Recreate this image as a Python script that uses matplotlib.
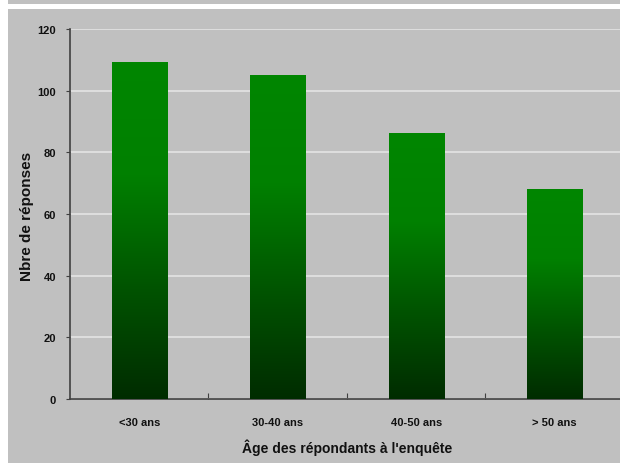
import matplotlib
matplotlib.use('Agg')
import matplotlib.pyplot as plt
import numpy as np
from matplotlib.colors import LinearSegmentedColormap
from matplotlib.patches import Rectangle

categories = ['<30 ans', '30-40 ans', '40-50 ans', '> 50 ans']
responses = [109, 105, 86, 68]
y_ticks = [0, 20, 40, 60, 80, 100, 120]

plt.rcParams['font.family'] = ['Liberation Sans', 'DejaVu Sans']
plt.rcParams['font.weight'] = 'bold'

fig = plt.figure(figsize=(6.2, 4.64), dpi=100, facecolor='#c0c0c0')
# white frame strips around the chart area
fig.patches.append(Rectangle((0, 0), 8 / 620, 1, transform=fig.transFigure,
                             facecolor='white', edgecolor='none'))
fig.patches.append(Rectangle((0, 1 - 10 / 464), 1, 5 / 464, transform=fig.transFigure,
                             facecolor='white', edgecolor='none'))

ax = fig.add_axes([70 / 620, 1 - 400 / 464, 554 / 620, 370 / 464])
ax.set_facecolor('#c0c0c0')

green = LinearSegmentedColormap.from_list('grn', ['#002c00', '#005400', '#008000', '#008600'])
grad = np.linspace(0, 1, 256).reshape(-1, 1)

x = np.arange(len(categories)) + 0.5
width = 0.4
for xi, val in zip(x, responses):
    ax.imshow(grad, cmap=green, origin='lower', aspect='auto',
              extent=(xi - width / 2, xi + width / 2, 0, val), zorder=3)

ax.set_xlim(0, len(categories))
ax.set_ylim(0, 120)
ax.set_yticks(y_ticks)
ax.yaxis.grid(True, color='#e4e4e4', linewidth=1.2, zorder=1)
ax.set_axisbelow(True)

ax.set_xticks(np.arange(1, len(categories)))
ax.set_xticklabels([])
ax.set_xticks(x, minor=True)
ax.set_xticklabels(categories, minor=True, fontsize=8, color='#111111')
ax.tick_params(axis='x', which='major', direction='in', length=4, color='#404040')
ax.tick_params(axis='x', which='minor', length=0, pad=13)
ax.tick_params(axis='y', direction='out', length=3, color='#404040',
               labelsize=8, labelcolor='#111111', pad=7)

for side in ['top', 'right']:
    ax.spines[side].set_visible(False)
for side in ['left', 'bottom']:
    ax.spines[side].set_color('#404040')
    ax.spines[side].set_linewidth(1.2)

fig.text(347 / 620, 1 - 448 / 464, "Âge des répondants à l'enquête", fontsize=10,
         fontweight='bold', color='#111111', ha='center', va='center')
fig.text(27 / 620, 1 - 216 / 464, 'Nbre de réponses', fontsize=11, fontweight='bold',
         color='#111111', ha='center', va='center', rotation=90)

fig.savefig('out.png', dpi=100, facecolor=fig.get_facecolor())
